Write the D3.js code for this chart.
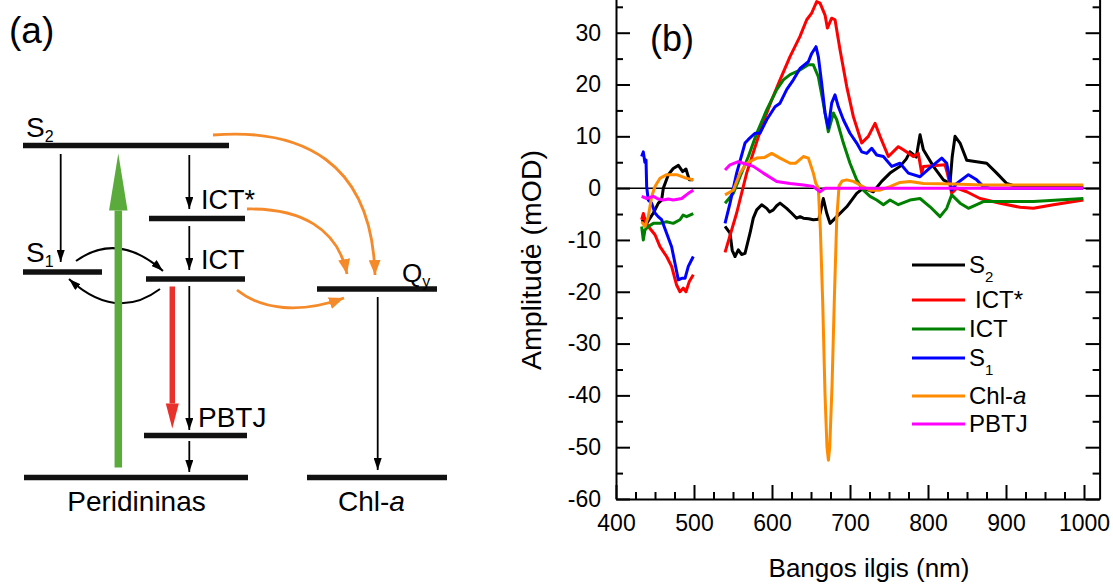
<!DOCTYPE html>
<html>
<head>
<meta charset="utf-8">
<script src="https://cdn.jsdelivr.net/npm/d3@7"></script>
<style>
body{margin:0;background:#fff}
svg{display:block;font-family:"Liberation Sans",Arial,sans-serif}
</style>
</head>
<body>
<svg id="fig" width="1113" height="586"></svg>
<script>
// spectra, [wavelength (nm), amplitude (mOD)], null = gap between the two probe windows
const s2_vals= [[432.9,-6.1],[439.3,-6.8],[447.9,-4.8],[454.3,-2.9],[458.5,-2.3],[460.7,0],[467.1,2.6],[473.4,3.8],[480,4.4],[485.5,3.2],[489.7,3.7],[494,1.6],[499,1.6],
    null,
    [539.8,-7.4],[546.2,-8.7],[549,-12],[552.6,-13.2],[556.8,-11.9],[561,-12.8],[565.4,-12.6],[571.8,-8.7],[576,-5.8],[580.4,-4.2],[586.8,-3.2],[593.2,-3.9],[597,-4.6],[601.7,-4.2],[606,-3.4],[610.3,-2.9],[618.8,-3.9],[625,-4.8],[631.6,-5.8],[636,-5.5],[640.2,-5.8],[647,-5.9],[653,-6.1],[660,-6],[665.8,-2],[670.1,-4.8],[674.4,-6.8],[683,-5.5],[695.8,-3.6],[708.6,-1],[717.1,0],[729.9,-0.7],[740.6,1.3],[751.3,2.9],[764.1,4.2],[772,5.6],[776.9,7],[781,6.5],[785,6],[789.8,10.3],[794.1,7.4],[806.9,4.2],[819.7,1.6],[828.2,0.9],[831,6],[834.7,10],[841.1,8.7],[849.6,5.4],[862.4,5.1],[875.3,4.8],[888.1,2.9],[900.9,0.9],[913.7,0.3],[960,0.3],[999,0.3]]
const ict_star_vals= [[432.9,-6.1],[435,-4.9],[438,-6.5],[441.4,-7.4],[450,-9],[456.4,-11.3],[464.9,-13.2],[471.3,-15.1],[477.7,-18.7],[482,-20],[486.3,-19.3],[489.7,-20],[494,-18],[499.1,-16.7],
    null,
    [539.8,-12.4],[554.7,-4.8],[567.5,2.9],[586.8,11.9],[599.6,17],[610.3,20.9],[623.1,25.4],[635.9,29.3],[644.5,32.5],[650.9,33.8],[657.3,36],[661.6,35.7],[668,33.4],[671,30.9],[676.5,32.8],[680.8,32.5],[687.2,26.7],[695.8,19.6],[704.3,13.8],[715,8.7],[723.5,10],[732.1,12.5],[738.5,10],[749.2,6.1],[762,8],[768.4,7.4],[781.2,6.1],[787.6,6.7],[791.9,2.9],[794.1,4.2],[821.8,4.5],[824.8,2.9],[830.4,-1],[836.8,0],[849.6,-0.7],[866.7,-2],[892.4,-2.9],[918,-3.7],[935.1,-3.9],[960.7,-3.2],[999.2,-2.3]]
const ict_vals= [[432.9,-7.4],[435,-10],[437.1,-8.1],[441.4,-7.4],[447.9,-6.8],[456.4,-6.8],[464.9,-6.5],[473.4,-6.8],[482,-6.1],[486,-5.2],[490.5,-5.5],[499.1,-4.9],
    null,
    [539.8,-2.9],[550.4,-1],[559,2.2],[569.7,6.1],[580.4,10.6],[593.2,15.1],[606,19],[614.6,20.9],[623.1,21.9],[635.9,22.8],[646.6,23.8],[653,23.8],[659.4,21.5],[665.8,16.4],[672.2,10.9],[678.7,14.5],[683,13.2],[691.5,8.7],[700,4.8],[708.6,1.6],[717.1,-0.4],[725.7,-1.6],[734.2,-2.3],[742.8,-3.2],[751.3,-2.3],[762,-3.2],[776.9,-2.3],[789.8,-2],[802.6,-3.6],[815.4,-5.5],[824,-3.9],[830.4,-1.3],[841.1,-2.9],[851.8,-3.9],[871,-2.6],[892.4,-2.6],[935.1,-2.6],[999.2,-2]]
const s1_vals= [[432.9,6.1],[435,7],[437,5],[438.5,5.4],[439.3,0.3],[441.4,-2.3],[445.7,-2.9],[450,-4.8],[454,-5.5],[458.5,-6.1],[464.9,-8.7],[471.3,-11.3],[475.6,-14.5],[479.9,-17.7],[484.2,-17.4],[488.5,-17.4],[492.7,-15.1],[499.1,-13.2],
    null,
    [539.8,-6.8],[546.2,-2.9],[554.7,2.9],[565.4,8.7],[569.7,9.4],[578.2,10.6],[584.6,10.6],[593.2,13.2],[603.9,15.7],[610.3,16.4],[618.8,19],[627.4,20.9],[635.9,23.1],[646.6,24.4],[650.9,26],[656.4,27.3],[659.4,25.4],[663.7,20.2],[668,14.5],[672.2,11.6],[676.5,16.4],[680.8,18],[685.1,15.7],[691.5,13.2],[700,10.6],[708.6,8.7],[715,7],[721.4,6.7],[727.8,7.7],[734.2,6.4],[742.8,6.1],[753.5,4.2],[764.1,4.8],[774.8,2.9],[789.8,2.2],[804.7,4.2],[817.6,5.8],[824,4.8],[830.4,-0.4],[836.8,0.9],[851.8,2.6],[862.4,1.6],[871,0.3],[879.5,0],[999,0]]
const chl_vals= [[432.9,-6.5],[437.1,-7.4],[441.4,-5.5],[445.7,-1.6],[450,0.3],[456.4,1.9],[464.9,2.6],[477.7,2.6],[490.5,1.9],[499.1,1.6],
    null,
    [539.8,-1.3],[550.4,-0.4],[559,2.9],[567.5,4.8],[580.4,5.8],[590,5.9],[599.6,6.7],[610.3,5.8],[623.1,4.8],[630,4.8],[640.2,6.1],[646.6,5.8],[653,2.9],[656,1],[659.4,0],[662,-8],[665,-22],[668,-40],[670.5,-50],[672.3,-52.5],[674,-50],[677,-38],[680,-21],[683,-6],[686,0.5],[690,1.4],[695.8,1.6],[704.3,1.3],[712.8,0.6],[725.7,-0.4],[738.5,-0.4],[751.3,0.3],[764.1,1.1],[776.9,1.3],[794.1,0.9],[832.5,0.8],[871,0.6],[999,0.6]]
const pbtj_vals= [[432.9,-1.6],[439.3,-2],[447.9,-1.6],[454,-2.1],[460.7,-2.3],[467,-2.1],[473.4,-2.3],[484.2,-2],[492.7,-1],[499.1,-0.4],
    null,
    [539.8,3.5],[546.2,4.5],[556.8,5.1],[563.3,4.8],[576.1,4.2],[588.9,2.9],[606,1.3],[623.1,0.9],[640.2,0.6],[653,0.3],[661.6,-0.7],[668,0],[999,0]]

const series_names= ["S2", "ICT*", "ICT", "S1", "Chl-a", "PBTJ"]
const series_colors= ["#000000", "#ff0000", "#008000", "#0000ff", "#ff8c00", "#ff00ff"]
const series_vals= [s2_vals, ict_star_vals, ict_vals, s1_vals, chl_vals, pbtj_vals]

const x_ticks= [400, 500, 600, 700, 800, 900, 1000]
const y_ticks= [-60, -50, -40, -30, -20, -10, 0, 10, 20, 30]


const svg= d3.select("#fig")

// ---------------- panel (b): spectra ----------------
const x= d3.scaleLinear().domain([400, 1020]).range([616, 1099.6])
const y= d3.scaleLinear().domain([-60, 40]).range([499, -19.1])

const gb= svg.append("g")

// zero line
gb.append("line")
    .attr("x1", x(400)).attr("x2", x(1020))
    .attr("y1", y(0)).attr("y2", y(0))
    .attr("stroke", "#000").attr("stroke-width", 1.5)

// curves
const line= d3.line()
    .defined(d => d !== null)
    .x(d => x(d[0]))
    .y(d => y(d[1]))

series_vals.forEach((vals, i) => {
    gb.append("path")
        .attr("d", line(vals))
        .attr("fill", "none")
        .attr("stroke", series_colors[i])
        .attr("stroke-width", 3)
        .attr("stroke-linejoin", "round")
})

// axes (ticks pointing inward, minor ticks separately)
const minor_x= d3.range(425, 1020, 25).filter(v => v % 100 !== 0)
const minor_y= d3.range(-55, 40, 10)
const plain= d => String(d)   // hyphen minus, no thousands comma

function style_axis(g){
    g.selectAll("path,line").attr("stroke", "#000").attr("stroke-width", 2)
    g.selectAll("text").attr("fill", "#000").attr("font-size", 23)
        .attr("font-family", '"Liberation Sans",Arial,sans-serif')
}

gb.append("g").attr("transform", `translate(0,${y(-60)})`)
    .call(d3.axisBottom(x).tickValues(x_ticks).tickFormat(plain).tickSizeInner(-14).tickSizeOuter(0).tickPadding(16))
    .call(style_axis)
    .selectAll("text").attr("dy", "0.71em")
gb.append("g").attr("transform", `translate(0,${y(-60)})`)
    .call(d3.axisBottom(x).tickValues(minor_x).tickSize(-7).tickFormat(""))
    .call(style_axis)
    .select(".domain").remove()

gb.append("g").attr("transform", `translate(${x(400)},0)`)
    .call(d3.axisLeft(y).tickValues(y_ticks).tickFormat(plain).tickSizeInner(-14).tickSizeOuter(0).tickPadding(15))
    .call(style_axis)
gb.append("g").attr("transform", `translate(${x(400)},0)`)
    .call(d3.axisLeft(y).tickValues(minor_y).tickSize(-7).tickFormat(""))
    .call(style_axis)
    .select(".domain").remove()

gb.append("g").attr("transform", `translate(${x(1020)},0)`)
    .call(d3.axisRight(y).tickValues(y_ticks).tickSizeInner(-14).tickSizeOuter(0).tickFormat(""))
    .call(style_axis)
gb.append("g").attr("transform", `translate(${x(1020)},0)`)
    .call(d3.axisRight(y).tickValues(minor_y).tickSize(-7).tickFormat(""))
    .call(style_axis)
    .select(".domain").remove()

// axis titles
gb.append("text")
    .attr("x", 869).attr("y", 577)
    .attr("text-anchor", "middle").attr("font-size", 26)
    .text("Bangos ilgis (nm)")
gb.append("text")
    .attr("transform", "translate(541,260) rotate(-90)")
    .attr("text-anchor", "middle").attr("font-size", 28.5)
    .text("Amplitudė (mOD)")

gb.append("text")
    .attr("x", 650).attr("y", 51)
    .attr("font-size", 36)
    .text("(b)")

// legend
const legend_rows= [265, 300, 329, 358, 396, 424]
const leg= gb.append("g")
series_names.forEach((name, i) => {
    let ly= legend_rows[i]
    leg.append("line")
        .attr("x1", 912).attr("x2", 965)
        .attr("y1", ly).attr("y2", ly)
        .attr("stroke", series_colors[i]).attr("stroke-width", 3)
    let t= leg.append("text")
        .attr("x", 969).attr("y", ly + 8)
        .attr("font-size", 24)
    if(name === "S2" || name === "S1"){
        t.append("tspan").text("S")
        t.append("tspan").attr("font-size", 15).attr("dy", 9).text(name[1])
    } else if(name === "Chl-a"){
        t.append("tspan").text("Chl-")
        t.append("tspan").attr("font-style", "italic").text("a")
    } else if(name === "ICT*"){
        t.attr("x", 975).text(name)
    } else {
        t.text(name)
    }
})

// ---------------- panel (a): energy levels ----------------
const ga= svg.append("g")
const defs= svg.append("defs")

function make_marker(id, color, len, wid){
    defs.append("marker")
        .attr("id", id)
        .attr("markerUnits", "userSpaceOnUse")
        .attr("markerWidth", len).attr("markerHeight", wid)
        .attr("viewBox", `0 0 ${len} ${wid}`)
        .attr("refX", len).attr("refY", wid/2)
        .attr("orient", "auto")
        .append("path")
        .attr("d", `M0,0L${len},${wid/2}L0,${wid}Z`)
        .attr("fill", color)
}
make_marker("head_k", "#000", 12, 8)
make_marker("head_o", "#f58a2a", 15, 12)

ga.append("text").attr("x", 9).attr("y", 43).attr("font-size", 37).text("(a)")

// levels [x1, x2, y]
const levels= [
    [23, 229, 145.5],   // S2
    [149, 245, 218.5],  // ICT*
    [23, 102, 272],     // S1
    [146, 245, 279],    // ICT
    [144, 247, 435.5],  // PBTJ
    [24, 248, 477.5],   // Peridininas ground
    [317, 437, 289],    // Qy
    [307, 447, 477.5],  // Chl-a ground
]
levels.forEach(l => {
    ga.append("line")
        .attr("x1", l[0]).attr("x2", l[1]).attr("y1", l[2]).attr("y2", l[2])
        .attr("stroke", "#111").attr("stroke-width", 5.5)
})

function arrow(path, color, width, marker){
    ga.append("path")
        .attr("d", path)
        .attr("fill", "none")
        .attr("stroke", color)
        .attr("stroke-width", width)
        .attr("marker-end", `url(#${marker})`)
}

// black straight arrows
arrow("M60.7,154V262", "#000", 1.8, "head_k")
arrow("M189.3,155V209", "#000", 1.8, "head_k")
arrow("M189.3,226V270", "#000", 1.8, "head_k")
arrow("M189.3,286V430", "#000", 1.8, "head_k")
arrow("M189.3,441V472", "#000", 1.8, "head_k")
arrow("M377.7,297V470", "#000", 1.8, "head_k")

// S1 <-> ICT
arrow("M76,261Q118,231 163,271", "#000", 2, "head_k")
arrow("M160,289Q116,322 69,279", "#000", 2, "head_k")

// energy transfer to Qy
arrow("M213,135C300,128 372,160 375,275", "#f58a2a", 2.8, "head_o")
arrow("M247,209C300,208 338,228 347,274", "#f58a2a", 2.8, "head_o")
arrow("M237,290C262,310 300,314 344,298", "#f58a2a", 2.8, "head_o")

// thick arrows: shaft + head
function thick_arrow(xc, y_from, y_tip, shaft_w, head_w, head_len, color){
    let dir= Math.sign(y_tip - y_from)
    let y_base= y_tip - dir*head_len
    ga.append("rect")
        .attr("x", xc - shaft_w/2).attr("width", shaft_w)
        .attr("y", Math.min(y_from, y_base)).attr("height", Math.abs(y_base - y_from))
        .attr("fill", color)
    ga.append("path")
        .attr("d", `M${xc - head_w/2},${y_base}L${xc + head_w/2},${y_base}L${xc},${y_tip}Z`)
        .attr("fill", color)
}
thick_arrow(118.3, 467.5, 153.5, 7.5, 18.5, 57, "#5bab3c")
thick_arrow(172.3, 286.5, 428.5, 5.5, 13, 25, "#e8312a")

// labels
function sub_label(lx, ly, main, sub, size){
    let t= ga.append("text").attr("x", lx).attr("y", ly).attr("font-size", size)
    t.append("tspan").text(main)
    t.append("tspan").attr("font-size", 16).attr("dy", 5).text(sub)
}
sub_label(26, 137, "S", "2", 28)
sub_label(26, 262, "S", "1", 28)
sub_label(402, 282, "Q", "y", 26)

ga.append("text").attr("x", 201).attr("y", 209).attr("font-size", 27).text("ICT*")
ga.append("text").attr("x", 201).attr("y", 269).attr("font-size", 27).text("ICT")
ga.append("text").attr("x", 198).attr("y", 427).attr("font-size", 28).text("PBTJ")
ga.append("text").attr("x", 136.5).attr("y", 511).attr("text-anchor", "middle").attr("font-size", 28).text("Peridininas")
let chl= ga.append("text").attr("x", 338).attr("y", 511).attr("font-size", 28)
chl.append("tspan").text("Chl-")
chl.append("tspan").attr("font-style", "italic").text("a")
</script>
</body>
</html>
